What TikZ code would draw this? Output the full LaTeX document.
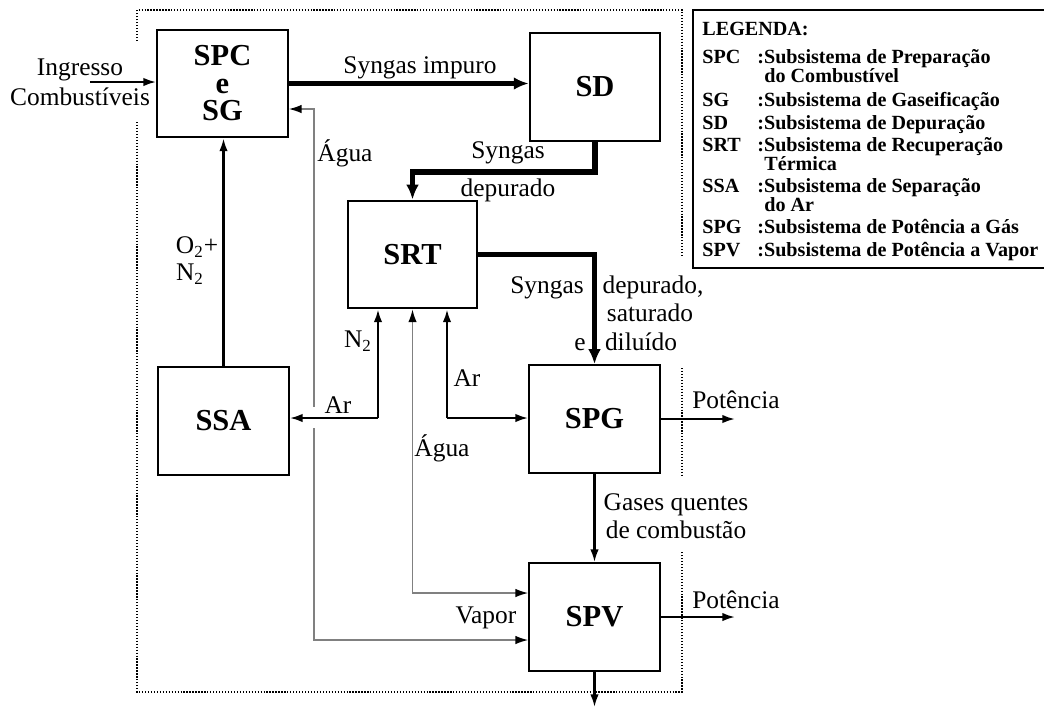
\documentclass[tikz,border=0pt]{standalone}
\usepackage{fontspec}
\setmainfont{Liberation Serif}
\usetikzlibrary{arrows.meta,calc}
\pgfkeys{tikz/sysbox/.style={draw,line width=1pt,minimum width=2.17cm,minimum height=1.79cm,inner sep=0pt,align=center,font=\fontsize{14.4}{13}\selectfont\bfseries}}
\pgfkeys{tikz/flow/.style={line width=1pt,-{Latex[length=6pt,width=4pt]}}}
\pgfkeys{tikz/gasflow/.style={line width=2.4pt,-{Latex[length=7pt,width=6pt]}}}
\pgfkeys{tikz/water/.style={line width=0.6pt,draw=black!50,{Latex[length=6pt,width=4pt,black]}-{Latex[length=6pt,width=4pt,black]}}}
\pgfkeys{tikz/bound/.style={line width=1pt,dash pattern=on 0.6pt off 0.8pt}}
\pgfkeys{tikz/lbl/.style={font=\fontsize{12}{14}\selectfont,inner sep=0pt,text height=8pt,text depth=0pt}}
\pgfkeys{tikz/leg/.style={font=\fontsize{9.5}{10}\selectfont\bfseries,inner sep=0pt,anchor=west,text height=6.3pt,text depth=0pt}}

\begin{document}
\begin{tikzpicture}[x=0.0166cm,y=-0.0166cm]
\useasboundingbox (0,0) rectangle (1044,708);

% subsystems
\node[sysbox] (spc) at (222.5,83.5) {SPC\\e\\SG};
\node[sysbox] (sd) at (595,87) {SD};
\node[sysbox,minimum width=2.14cm] (srt) at (412.5,254.5) {SRT};
\node[sysbox] (ssa) at (223.5,421) {SSA};
\node[sysbox] (spg) at (594.5,419) {SPG};
\node[sysbox] (spv) at (594.5,617) {SPV};

% plant boundary
\draw[bound] (137,41) |- (682,10) -- (682,257);
\draw[bound] (137,122) |- (682,692) -- (682,552);
\draw[bound] (682,368) -- (682,477);

% fuel
\coordinate (fuel) at (90,82);
\draw[flow] (fuel) -- (fuel -| spc.west);
\node[lbl] (ingr) at (80,67) {Ingresso};
\node[lbl] (comb) at (80,97) {Combustíveis};

% syngas
\draw[gasflow] (spc.east) -- (spc.east -| sd.west);
\node[lbl] (simp) at (420,65) {Syngas impuro};
\draw[gasflow] (sd.south) -- ++(0,30) -| (srt.north);
\node[lbl] (sdep1) at (508,150) {Syngas};
\node[lbl] (sdep2) at (508,188) {depurado};
\draw[gasflow] (srt.east) -| (spg.north);
\node[lbl] (ssat1) at (547,285) {Syngas};
\node[lbl] (ssat2) at (653,285) {depurado,};
\node[lbl] (ssat3) at (650,313) {saturado};
\node[lbl] (ssat4) at (580,342) {e};
\node[lbl] (ssat5) at (641,342) {diluído};

% water and steam
\draw[water] ($(spc.east)+(0,25.5)$) -- ++(25,0) |- ($(spv.west)+(0,23)$);
\coordinate (hop) at (313,418);
\fill[white] ($(hop)+(-3,-11)$) rectangle ($(hop)+(3,10)$);
\draw[water] (srt.south) |- ($(spv.west)+(0,-24)$);
\node[lbl] (agua1) at (345,153) {Água};
\node[lbl] (agua2) at (442,448) {Água};
\node[lbl] (vapor) at (486,615) {Vapor};

% air
\coordinate (n2) at (378,418);
\coordinate (air) at (447,418);
\draw[flow] (n2) -- (n2 |- srt.south);
\draw[flow] (n2) -- (n2 -| ssa.east);
\draw[flow] (air) -- (air |- srt.south);
\draw[flow] (air) -- (air -| spg.west);
\draw[flow] (ssa.north) -- (ssa.north |- spc.south);
\node[lbl] (o2) at (197,245) {O\textsubscript{2}+};
\node[lbl] (n2a) at (190,272) {N\textsubscript{2}};
\node[lbl] (n2b) at (358,339) {N\textsubscript{2}};
\node[lbl] (ar1) at (338,405) {Ar};
\node[lbl] (ar2) at (467,378) {Ar};

% outputs
\coordinate (pw1) at (735,419);
\coordinate (pw2) at (735,617);
\coordinate (exh) at (594.5,707);
\draw[flow] (spg.east) -- (pw1);
\draw[flow] (spv.east) -- (pw2);
\draw[flow] (spg.south) -- (spv.north);
\draw[flow] (spv.south) -- (exh);
\node[lbl] (pot1) at (736,400) {Potência};
\node[lbl] (pot2) at (736,600) {Potência};
\node[lbl] (gas1) at (676,502) {Gases quentes};
\node[lbl] (gas2) at (676,530) {de combustão};

% legend
\draw[line width=0.9pt] (1050,10) -| (693,268) -- (1050,268);
\node[leg] (legtitle) at (702,29) {LEGENDA:};
\foreach \ab/\tx/\yy in {SPC/:Subsistema de Preparação/57, SG/:Subsistema de Gaseificação/100,
  SD/:Subsistema de Depuração/123, SRT/:Subsistema de Recuperação/145,
  SSA/:Subsistema de Separação/186, SPG/:Subsistema de Potência a Gás/227,
  SPV/:Subsistema de Potência a Vapor/250} {
  \node[leg] (ab-\yy) at (702,\yy) {\ab};
  \node[leg] (tx-\yy) at (757,\yy) {\tx};
}
\foreach \tx/\yy in {do Combustível/76, Térmica/164, do Ar/205}
  \node[leg] (tx-\yy) at (764,\yy) {\tx};

\end{tikzpicture}
\end{document}
